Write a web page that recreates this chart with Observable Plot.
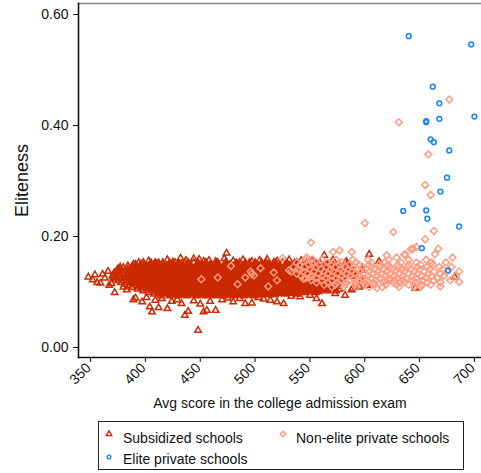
<!DOCTYPE html>
<html><head><meta charset="utf-8">
<script src="https://cdn.jsdelivr.net/npm/d3@7"></script>
<script src="https://cdn.jsdelivr.net/npm/@observablehq/plot@0.6"></script>
<style>
body{margin:0;background:#fff;font-family:"Liberation Sans",Arial,Helvetica,sans-serif;}
#wrap{position:relative;width:481px;height:473px;overflow:hidden;}
#legend{position:absolute;left:98px;top:421px;width:364px;height:47px;border:1px solid #222;}
.item{position:absolute;font-size:14px;color:#111;white-space:nowrap;line-height:16px;}
.sym{position:absolute;overflow:visible;}
</style></head><body><div id="wrap"></div>
<script>
// ---------------- data ----------------
const xTitle = "Avg score in the college admission exam";
const yTitle = "Eliteness";
const xTicks = [350, 400, 450, 500, 550, 600, 650, 700];
const yTicks = [0, 0.2, 0.4, 0.6];
const groupNames = ["Subsidized schools", "Non-elite private schools", "Elite private schools"];

// Subsidized schools: dense body, listed as [eliteness, [scores...]]
const subsidizedRows = [
 [.153,[398,409,416,427,436,444,455,466,474,486,495,506,517,525,538,549,559]],
 [.150,[389,396,405,412,422,430,439,448,455,465,473,483,491,500,510,518,529,536,547,555,566,576]],
 [.147,[384,391,399,408,416,425,433,441,451,459,467,477,485,494,502,512,520,528,538,546,554,564,572,581]],
 [.144,[380,388,395,403,412,420,429,437,446,454,463,471,480,489,497,506,514,523,532,540,549,557,566,575,584]],
 [.141,[377,384,392,400,407,416,424,433,441,449,458,467,475,484,492,501,509,518,527,535,544,553,561,570,578,587]],
 [.138,[374,381,388,396,404,412,421,429,438,446,455,463,472,480,489,497,506,515,523,532,540,549,557,566,574,583,590]],
 [.135,[372,379,387,394,402,410,418,426,435,443,452,460,469,477,486,494,503,511,520,528,537,546,554,563,571,579,588]],
 [.132,[371,377,384,391,399,407,415,423,431,440,448,457,465,474,482,491,499,508,517,525,534,542,551,559,568,576,585]],
 [.129,[370,376,383,390,397,405,413,421,429,437,446,454,463,471,480,488,497,505,514,523,531,540,548,557,566,574,582]],
 [.126,[371,378,385,393,401,409,417,425,434,442,451,459,468,477,485,494,502,511,519,528,536,545,554,562,571,579]],
 [.123,[373,380,388,395,403,411,419,428,436,445,453,462,470,479,488,496,505,513,522,530,539,548,556,565,573,581]],
 [.120,[375,382,390,398,406,414,422,431,439,448,456,465,473,482,490,499,508,516,525,534,542,551,559,568,576]],
 [.117,[378,386,393,401,409,417,426,434,442,451,459,468,477,485,494,502,511,519,528,537,545,553,562,570,578]],
 [.114,[381,389,397,404,412,420,429,437,446,454,463,471,480,488,497,505,514,523,531,540,548,557,565,573]],
 [.111,[384,392,400,408,416,424,432,441,449,458,466,475,483,492,500,509,518,526,535,543,552,560,569]],
 [.108,[388,396,404,412,420,428,437,445,453,462,471,479,488,496,505,513,521,530,538,547,556,564,572]],
 [.105,[393,401,409,417,425,433,442,450,459,467,476,484,492,501,510,518,526,535,544,553,561,569,577]],
 [.102,[398,406,414,422,430,438,446,455,463,471,480,488,497,505,514,522,531,539,548,557,566,574]],
 [.099,[403,411,419,427,435,443,451,460,468,476,485,493,502,510,519,528,537,546,555]],
 [.096,[408,416,424,432,440,449,457,465,474,482,491,499,508,517,527,538]],
 [.093,[414,422,430,438,447,455,464,472,481,490,499]]
];
// Subsidized schools: visible edge points and outliers [score, eliteness]
const subsidizedEdge = [
 [348,.127],[352,.122],[354,.131],[356,.117],[359,.116],[361,.132],[363,.125],[366,.137],[367,.112],[369,.115],
 [371,.128],[372,.099],[375,.142],[377,.145],[380,.109],[383,.104],[386,.140],[391,.150],
 [394,.153],[403,.156],[410,.151],[420,.158],[425,.154],[432,.161],[437,.157],[444,.160],[449,.159],[453,.155],
 [458,.157],[464,.155],[472,.160],[474,.170],[480,.156],[489,.158],[497,.155],[504,.157],[511,.159],[520,.156],
 [531,.158],[542,.157],[552,.156],[563,.166],[571,.158],[584,.151],
 [389,.086],[391,.089],[397,.082],[401,.090],[404,.073],[406,.064],[409,.085],[412,.072],[415,.088],[420,.070],
 [424,.083],[429,.086],[433,.079],[436,.058],[439,.065],[444,.084],[448,.031],[450,.078],[453,.064],[456,.067],
 [459,.083],[464,.067],[466,.094],[470,.086],[475,.089],[480,.082],[486,.088],[491,.079],[497,.080],[503,.090],
 [508,.087],[514,.085],[520,.082],[526,.079],[533,.092],[541,.091],[550,.094],[556,.088],[561,.079],[566,.103],
 [573,.097],[582,.094],
 [583,.155],[588,.104],[589,.107],[595,.109],[602,.112],[604,.168],[613,.155],[646,.107],[682,.127],
 [576,.110],[566,.106],[592,.128],[598,.139],[597,.121]
];

// Non-elite private schools: dense band [eliteness, [scores...]]
const nonEliteRows = [
 [.158,[546,561,574,589,603,622,640,656]],
 [.153,[538,552,566,579,592,606,618,633,647,661,674]],
 [.149,[541,549,558,569,577,586,595,604,613,621,630,640,651,662]],
 [.145,[535,545,556,565,573,582,590,598,606,614,623,631,639,648,657,668,679]],
 [.141,[539,550,560,569,578,585,593,601,609,617,625,634,642,650,659,671]],
 [.137,[533,544,553,563,571,580,588,596,604,612,620,628,636,645,654,663,675,686]],
 [.133,[538,548,558,566,575,583,591,599,607,615,623,631,640,648,658,669]],
 [.129,[542,552,561,570,579,587,595,603,611,619,627,635,643,652,661,672,683]],
 [.125,[546,556,565,574,582,590,598,606,614,622,630,638,647,656,666]],
 [.121,[551,561,570,578,586,594,602,610,618,627,635,644,653,663,678]],
 [.117,[556,566,575,583,592,600,608,617,626,636,646,657,669]],
 [.113,[563,573,582,591,600,609,619,629,640,652]],
 [.109,[570,581,592,604,616,631,645]]
];
// Non-elite private schools: scattered points [score, eliteness]
const nonEliteEdge = [
 [677,.447],[631,.406],[658,.348],[655,.293],[660,.275],[626,.208],[663,.210],[655,.195],[600,.224],[551,.189],
 [644,.178],[637,.168],[667,.178],[664,.168],[680,.162],[642,.177],[647,.181],[636,.167],[629,.162],[620,.166],
 [588,.172],[577,.175],[571,.172],[552,.159],
 [611,.107],[651,.109],[669,.110],[686,.118],[660,.113],[632,.118],[623,.121],
 [451,.123],[466,.126],[491,.126],[497,.133],[496,.137],[499,.130],[512,.110],[517,.135],[525,.161],[531,.139],
 [541,.139],[544,.124],[547,.162],[550,.127],[478,.147],[484,.114],[505,.143],[520,.121]
];

// Elite private schools [score, eliteness]
const elite = [
 [640,.561],[697,.546],[662,.470],[668,.440],[656,.406],[656,.408],[668,.412],[700,.416],[660,.375],[663,.370],
 [677,.355],[675,.306],[669,.281],[644,.259],[635,.246],[656,.247],[657,.232],[686,.218],[652,.179],[676,.139]
];

// ---------------- build table ----------------
// "core" marks points buried inside the solid red body (drawn filled so the overlap reads as solid)
const points = [];
for (const [e, xs] of subsidizedRows) xs.forEach((s, i) => points.push({
  score: s, eliteness: e, group: groupNames[0],
  core: e >= .096 && e <= .150 && i >= 2 && i <= xs.length - 3
}));
for (const [s, e] of subsidizedEdge) points.push({score: s, eliteness: e, group: groupNames[0], core: false});
for (const [e, xs] of nonEliteRows) for (const s of xs) points.push({score: s, eliteness: e, group: groupNames[1], core: false});
for (const [s, e] of nonEliteEdge) points.push({score: s, eliteness: e, group: groupNames[1], core: false});
for (const [s, e] of elite) points.push({score: s, eliteness: e, group: groupNames[2], core: false});

const colors = {[groupNames[0]]: "#cc2a00", [groupNames[1]]: "#ff9a80", [groupNames[2]]: "#1583ff"};
const symbols = {[groupNames[0]]: "triangle", [groupNames[1]]: "diamond2", [groupNames[2]]: "circle"};
const radii = {[groupNames[0]]: 2.4, [groupNames[1]]: 3.1, [groupNames[2]]: 2.4};

const font = "Liberation Sans, Arial, Helvetica, sans-serif";
const layer = (g, core) => Plot.dot(points.filter(d => d.group === g && d.core === core), {
  x: "score", y: "eliteness", symbol: () => symbols[g], r: core ? 3.4 : radii[g],
  stroke: colors[g], strokeWidth: 1.5, fill: core ? colors[g] : "none"
});

const chart = Plot.plot({
  width: 481, height: 416,
  marginLeft: 78, marginRight: 0, marginTop: 3, marginBottom: 59,
  style: {fontFamily: font, fontSize: "14px", color: "#111", background: "#fff", overflow: "visible"},
  symbol: {type: "identity"},
  x: {domain: [339, 706.4], label: null},
  y: {domain: [-0.018, 0.6198], ticks: yTicks, tickFormat: d3.format(".2f"), tickSize: 5, tickPadding: 5, label: null},
  marks: [
    layer(groupNames[0], false),
    layer(groupNames[0], true),
    layer(groupNames[1], false),
    layer(groupNames[2], false),
    Plot.frame({anchor: "top", stroke: "#888", strokeWidth: 1.5}),
    Plot.frame({anchor: "left", stroke: "#111", strokeWidth: 1.6}),
    Plot.frame({anchor: "bottom", stroke: "#111", strokeWidth: 1.6}),
    Plot.axisX({ticks: xTicks, tickSize: 5, tickFormat: () => "", label: null}),
    Plot.axisX({ticks: xTicks, tickSize: 0, tickPadding: 8, tickRotate: -45, dx: -2, label: null}),
    Plot.text([xTitle], {frameAnchor: "bottom", dy: 46, text: d => d, fontSize: 14, lineAnchor: "middle"}),
    Plot.text([yTitle], {frameAnchor: "left", dx: -56, rotate: -90, text: d => d, fontSize: 18, lineAnchor: "middle", textAnchor: "middle"})
  ]
});
const wrap = document.getElementById("wrap");
wrap.appendChild(chart);
chart.style.position = "absolute"; chart.style.left = "0"; chart.style.top = "0";

// ---------------- legend ----------------
const legend = document.createElement("div");
legend.id = "legend";
wrap.appendChild(legend);
const legendLayout = [
  {g: groupNames[0], sx: 10, sy: 12, tx: 24, ty: 8, size: 13},
  {g: groupNames[1], sx: 184, sy: 12, tx: 197, ty: 8, size: 20},
  {g: groupNames[2], sx: 10, sy: 35, tx: 24, ty: 29, size: 11}
];
const symType = {triangle: d3.symbolTriangle, diamond2: d3.symbolDiamond2, circle: d3.symbolCircle};
for (const it of legendLayout) {
  const svg = d3.select(legend).append("svg").attr("class", "sym")
    .attr("width", 12).attr("height", 12)
    .style("left", (it.sx - 6) + "px").style("top", (it.sy - 6) + "px");
  svg.append("path").attr("transform", "translate(6,6)")
    .attr("d", d3.symbol(symType[symbols[it.g]], it.size)())
    .attr("fill", "none").attr("stroke", colors[it.g]).attr("stroke-width", 1.4);
  const t = document.createElement("div");
  t.className = "item"; t.textContent = it.g;
  t.style.left = it.tx + "px"; t.style.top = it.ty + "px";
  legend.appendChild(t);
}
</script></body></html>
